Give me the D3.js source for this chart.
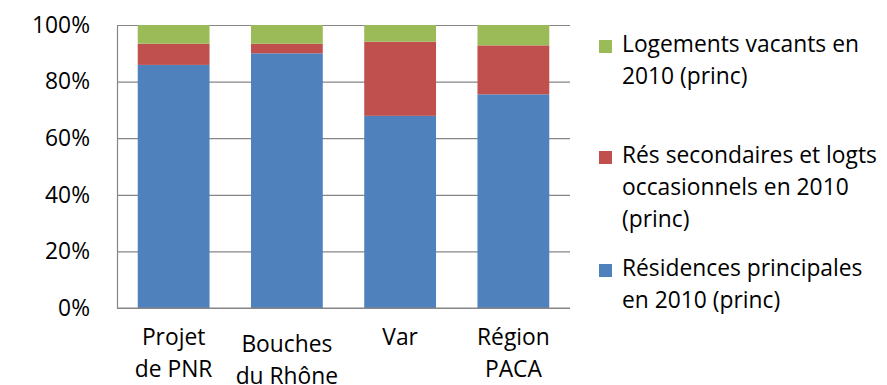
<!DOCTYPE html>
<html>
<head>
<meta charset="utf-8">
<script src="https://cdn.jsdelivr.net/npm/d3@7"></script>
<style>
  body { margin: 0; background: #fff; }
  svg text { font-family: "Open Sans", Lato, sans-serif; fill: #000; }
</style>
</head>
<body>
<div id="chart"></div>
<script>
// categories (split over lines like the original axis)
var categories = ["Projet de PNR", "Bouches du Rhône", "Var", "Région PACA"];
var categoryLines = [["Projet", "de PNR"], ["Bouches", "du Rhône"], ["Var"], ["Région", "PACA"]];

// shares in %
var residencesPrinc = [85.9, 90.0, 67.9, 75.5];
var resSecondaires = [7.5, 3.4, 26.2, 17.3];
var logementsVacants = [6.6, 6.6, 5.9, 7.2];

var seriesNames = ["Résidences principales en 2010 (princ)",
                   "Rés secondaires et logts occasionnels en 2010 (princ)",
                   "Logements vacants en 2010 (princ)"];
var legendLines = [["Résidences principales", "en 2010 (princ)"],
                   ["Rés secondaires et logts", "occasionnels en 2010", "(princ)"],
                   ["Logements vacants en", "2010 (princ)"]];
var yTicks = [0, 20, 40, 60, 80, 100];

var colors = ["#4F81BD", "#C0504D", "#9BBB59"];

var width = 887, height = 385;
var margin = {top: 25, left: 117, right: 317, bottom: 77};
var plotW = width - margin.left - margin.right,
    plotH = height - margin.top - margin.bottom;
var fontSize = "22.8px";

var svg = d3.select("#chart")
    .append("svg")
    .attr("width", width)
    .attr("height", height);

var g = svg.append("g")
    .attr("transform", "translate(" + margin.left + "," + margin.top + ")");

var x = d3.scaleBand()
    .domain(categories)
    .range([0, plotW])
    .paddingInner(0.366)
    .paddingOuter(0.183);

var y = d3.scaleLinear().domain([0, 100]).range([plotH, 0]);

// build table for stack
var table = categories.map(function (c, i) {
    return {cat: c, s0: residencesPrinc[i], s1: resSecondaires[i], s2: logementsVacants[i]};
});
var stacked = d3.stack().keys(["s0", "s1", "s2"])(table);

// gridlines
g.append("g")
    .attr("class", "grid")
    .call(d3.axisLeft(y).tickValues(yTicks).tickSize(-plotW).tickFormat(""))
    .call(function (s) {
        s.select(".domain").remove();
        s.selectAll("line").attr("stroke", "#868686").attr("stroke-width", 1.2);
    });

// bars
g.selectAll(".serie")
    .data(stacked)
    .enter()
    .append("g")
    .attr("class", "serie")
    .attr("fill", function (d, i) { return colors[i]; })
    .selectAll("rect")
    .data(function (d) { return d; })
    .enter()
    .append("rect")
    .attr("x", function (d) { return x(d.data.cat); })
    .attr("width", x.bandwidth())
    .attr("y", function (d) { return y(d[1]); })
    .attr("height", function (d) { return y(d[0]) - y(d[1]); });

// y axis
g.append("g")
    .call(d3.axisLeft(y).tickValues(yTicks).tickSize(0).tickPadding(27)
        .tickFormat(function (d) { return d + "%"; }))
    .call(function (s) {
        s.select(".domain").attr("stroke", "#868686").attr("stroke-width", 1.2);
        s.selectAll("text").attr("font-size", fontSize).attr("font-family", "'Open Sans', Lato, sans-serif").attr("fill", "#000");
    });

// x axis line
g.append("line")
    .attr("x1", 0).attr("x2", plotW)
    .attr("y1", plotH).attr("y2", plotH)
    .attr("stroke", "#868686").attr("stroke-width", 1.2);

// category labels
var xl = g.selectAll(".xlab")
    .data(categories)
    .enter()
    .append("text")
    .attr("class", "xlab")
    .attr("text-anchor", "middle")
    .attr("font-size", fontSize)
    .attr("transform", function (d, i) {
        // the "Bouches du Rhône" label sits a little lower in the original
        var dy = i === 1 ? 7 : 0;
        return "translate(" + (x(d) + x.bandwidth() / 2) + "," + (plotH + 37 + dy) + ")";
    });
xl.selectAll("tspan")
    .data(function (d, i) { return categoryLines[i]; })
    .enter()
    .append("tspan")
    .attr("x", 0)
    .attr("y", function (d, i) { return i * 32; })
    .text(function (d) { return d; });

// legend (top to bottom: vacants, secondaires, principales)
var legendY = [52, 163, 276];
var legend = svg.selectAll(".leg")
    .data([2, 1, 0])
    .enter()
    .append("g")
    .attr("class", "leg")
    .attr("transform", function (d, i) { return "translate(599," + legendY[i] + ")"; });

legend.append("rect")
    .attr("x", 0).attr("y", -12)
    .attr("width", 13).attr("height", 13)
    .attr("fill", function (d) { return colors[d]; });

legend.append("text")
    .attr("font-size", fontSize)
    .selectAll("tspan")
    .data(function (d) { return legendLines[d]; })
    .enter()
    .append("tspan")
    .attr("x", 23)
    .attr("y", function (d, i) { return i * 32; })
    .text(function (d) { return d; });
</script>
</body>
</html>
